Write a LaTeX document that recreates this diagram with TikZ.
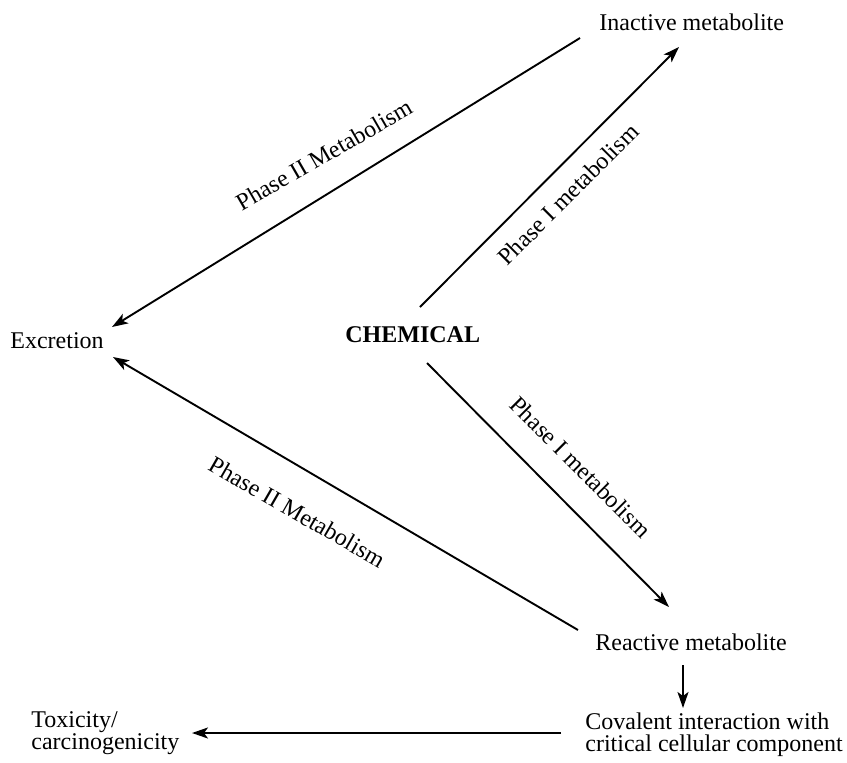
\documentclass[tikz,border=0pt]{standalone}
\usepackage{fontspec}
\setmainfont{Liberation Serif}
\usetikzlibrary{arrows.meta}
\begin{document}
\begin{tikzpicture}[x=0.5pt,y=-0.5pt,
  txt/.style={inner sep=0pt, font=\fontsize{12}{11}\selectfont},
  lbl/.style={inner sep=0pt, anchor=base, font=\fontsize{12}{11}\selectfont},
  conn/.style={line width=0.95pt, -{Stealth[length=8pt,width=5.5pt,inset=2pt]}}]
\useasboundingbox (0,0) rectangle (847,762);
% nodes
\node[txt, anchor=base west] (inactive) at (599,30) {Inactive metabolite};
\node[txt, anchor=base west] (excretion) at (10,348) {Excretion};
\node[txt, anchor=base west, font=\fontsize{12}{11}\selectfont\bfseries] (chemical) at (345,342) {CHEMICAL};
\node[txt, anchor=base west] (reactive) at (595,650) {Reactive metabolite};
% multi-line nodes: base anchor is the baseline of the last line
\node[txt, anchor=base west, align=left] (covalent) at (585,751) {Covalent interaction with\\critical cellular component};
\node[txt, anchor=base west, align=left] (toxicity) at (31,749) {Toxicity/\\carcinogenicity};
% connector end points
\coordinate (chemUp) at (420,307);
\coordinate (inactIn) at (679,47);
\coordinate (inactOut) at (580,38);
\coordinate (excrUp) at (112,327);
\coordinate (chemDown) at (427,363);
\coordinate (reactIn) at (669,607);
\coordinate (reactOut) at (578,630);
\coordinate (excrDown) at (113,357);
\coordinate (reactBelow) at (683,665);
\coordinate (covalTop) at (683,708);
\coordinate (covalLeft) at (561,733);
\coordinate (toxRight) at (192,733);
% connectors
\draw[conn] (chemUp) -- (inactIn);
\draw[conn] (inactOut) -- (excrUp);
\draw[conn] (chemDown) -- (reactIn);
\draw[conn] (reactOut) -- (excrDown);
\draw[conn] (reactBelow) -- (covalTop);
\draw[conn] (covalLeft) -- (toxRight);
% labels
\node[lbl, rotate=30] (l1) at (328,162) {Phase II Metabolism};
\node[lbl, rotate=45] (l2) at (574,200) {Phase I metabolism};
\node[lbl, rotate=-45] (l3) at (575,473) {Phase I metabolism};
\node[lbl, rotate=-30] (l4) at (293,519) {Phase II Metabolism};
\end{tikzpicture}
\end{document}
